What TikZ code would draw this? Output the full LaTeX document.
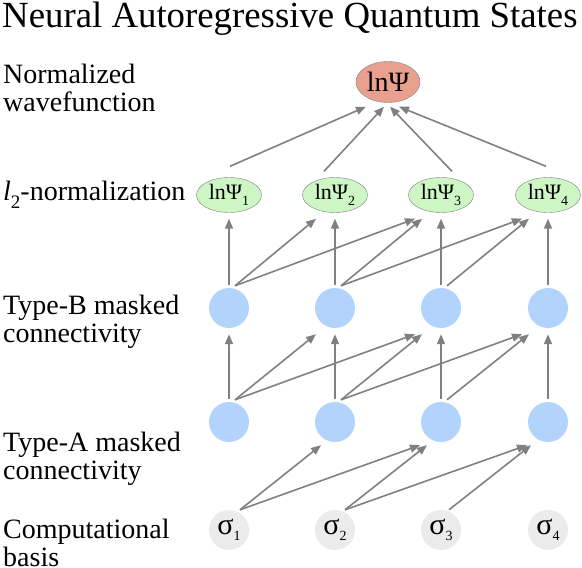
\documentclass[tikz,border=0pt]{standalone}
\usepackage{fontspec}
\setmainfont{Liberation Serif}
\usepackage{tikz}
\usetikzlibrary{arrows.meta, shapes.geometric}
\definecolor{nqsred}{RGB}{234,160,143}
\definecolor{nqsgreen}{RGB}{206,246,196}
\definecolor{nqsblue}{RGB}{178,212,252}
\definecolor{nqsgray}{RGB}{235,235,235}
\definecolor{nqsline}{RGB}{128,128,128}
\newcommand{\lowsub}[2]{#1\raisebox{-6pt}{\fontsize{14}{14}\selectfont #2}}

\begin{document}
\begin{tikzpicture}[x=1pt, y=-1pt,
  lbl/.style={anchor=base west, align=left, inner sep=0pt, font=\fontsize{28}{28}\selectfont},
  unit/.style={circle, fill=nqsblue, minimum size=40pt, inner sep=0pt},
  spin/.style={circle, fill=nqsgray, minimum size=40pt, inner sep=0pt, font=\fontsize{30}{30}\selectfont},
  amp/.style={ellipse, draw=nqsline, fill=nqsgreen, minimum width=65pt, minimum height=35pt, inner sep=0pt, font=\fontsize{22}{22}\selectfont},
  arr/.style={-{Triangle[length=10pt,width=8pt]}, draw=nqsline, line width=1.6pt}]
\useasboundingbox (0,0) rectangle (582,568);

% Title and row labels
\node[anchor=base west, inner sep=0pt, font=\fontsize{36.8}{36.8}\selectfont] (title) at (2,27) {Neural Autoregressive Quantum States};
\node[lbl] (lwave) at (3,111) {Normalized\\wavefunction};
\node[lbl] (lnorm) at (3,200) {\textit{l}\raisebox{-8pt}{\fontsize{19}{19}\selectfont 2}-normalization};
\node[lbl] (ltypeb) at (3,342) {Type-B masked\\connectivity};
\node[lbl] (ltypea) at (3,479) {Type-A masked\\connectivity};
\node[lbl] (lbasis) at (3,566) {Computational\\basis};

% Normalized wavefunction
\node[ellipse, draw=nqsline, fill=nqsred, minimum width=64pt, minimum height=41pt, inner sep=0pt, font=\fontsize{28}{28}\selectfont] (psi) at (388,82) {lnΨ};

% l2-normalization
\node[amp] (psi1) at (229,195) {\lowsub{lnΨ}{1}};
\node[amp] (psi2) at (335,195) {\lowsub{lnΨ}{2}};
\node[amp] (psi3) at (441,195) {\lowsub{lnΨ}{3}};
\node[amp] (psi4) at (548,195) {\lowsub{lnΨ}{4}};

% Type-B layer
\node[unit] (hb1) at (229,308) {};
\node[unit] (hb2) at (335,308) {};
\node[unit] (hb3) at (441,308) {};
\node[unit] (hb4) at (548,308) {};

% Type-A layer
\node[unit] (ha1) at (229,422) {};
\node[unit] (ha2) at (335,422) {};
\node[unit] (ha3) at (441,422) {};
\node[unit] (ha4) at (548,422) {};

% Computational basis
\node[spin] (s1) at (229,530) {\lowsub{σ}{1}};
\node[spin] (s2) at (335,530) {\lowsub{σ}{2}};
\node[spin] (s3) at (441,530) {\lowsub{σ}{3}};
\node[spin] (s4) at (548,530) {\lowsub{σ}{4}};

% l2-normalization to wavefunction
\draw[arr] ([xshift=1pt,yshift=11pt]psi1.north) -- ([xshift=-22pt,yshift=-4pt]psi.south);
\draw[arr] ([xshift=-11pt,yshift=6pt]psi2.north) -- ([xshift=-4pt,yshift=-4pt]psi.south);
\draw[arr] ([xshift=11pt,yshift=6pt]psi3.north) -- ([xshift=2pt,yshift=-4pt]psi.south);
\draw[arr] ([xshift=-2pt,yshift=11pt]psi4.north) -- ([xshift=11pt,yshift=-4pt]psi.south);

% Type-B masked connectivity
\draw[arr] ([yshift=3pt]hb1.north) -- ([yshift=-6pt]psi1.south);
\draw[arr] ([xshift=6pt,yshift=2pt]hb1.north) -- ([xshift=-19pt,yshift=-6pt]psi2.south);
\draw[arr] ([xshift=6pt,yshift=2pt]hb1.north) -- ([xshift=-26pt,yshift=-6pt]psi3.south);
\draw[arr] ([yshift=3pt]hb2.north) -- ([yshift=-6pt]psi2.south);
\draw[arr] ([xshift=6pt,yshift=2pt]hb2.north) -- ([xshift=-19pt,yshift=-6pt]psi3.south);
\draw[arr] ([xshift=6pt,yshift=2pt]hb2.north) -- ([xshift=-26pt,yshift=-6pt]psi4.south);
\draw[arr] ([yshift=3pt]hb3.north) -- ([yshift=-6pt]psi3.south);
\draw[arr] ([xshift=6pt,yshift=2pt]hb3.north) -- ([xshift=-19pt,yshift=-6pt]psi4.south);
\draw[arr] ([yshift=3pt]hb4.north) -- ([yshift=-6pt]psi4.south);

% Type-A to Type-B layer
\draw[arr] ([yshift=3pt]ha1.north) -- ([yshift=-6pt]hb1.south);
\draw[arr] ([xshift=6pt,yshift=2pt]ha1.north) -- ([xshift=-19pt,yshift=-6pt]hb2.south);
\draw[arr] ([xshift=6pt,yshift=2pt]ha1.north) -- ([xshift=-26pt,yshift=-6pt]hb3.south);
\draw[arr] ([yshift=3pt]ha2.north) -- ([yshift=-6pt]hb2.south);
\draw[arr] ([xshift=6pt,yshift=2pt]ha2.north) -- ([xshift=-19pt,yshift=-6pt]hb3.south);
\draw[arr] ([xshift=6pt,yshift=2pt]ha2.north) -- ([xshift=-26pt,yshift=-6pt]hb4.south);
\draw[arr] ([yshift=3pt]ha3.north) -- ([yshift=-6pt]hb3.south);
\draw[arr] ([xshift=6pt,yshift=2pt]ha3.north) -- ([xshift=-19pt,yshift=-6pt]hb4.south);
\draw[arr] ([yshift=3pt]ha4.north) -- ([yshift=-6pt]hb4.south);

% Type-A masked connectivity
\draw[arr] ([xshift=11pt]s1.north) -- ([xshift=-14pt,yshift=-3pt]ha2.south);
\draw[arr] ([xshift=11pt]s1.north) -- ([xshift=-21pt,yshift=-3pt]ha3.south);
\draw[arr] ([xshift=10pt]s2.north) -- ([xshift=-14pt,yshift=-3pt]ha3.south);
\draw[arr] ([xshift=10pt]s2.north) -- ([xshift=-21pt,yshift=-3pt]ha4.south);
\draw[arr] ([xshift=8pt]s3.north) -- ([xshift=-17pt,yshift=-3pt]ha4.south);
\end{tikzpicture}
\end{document}
